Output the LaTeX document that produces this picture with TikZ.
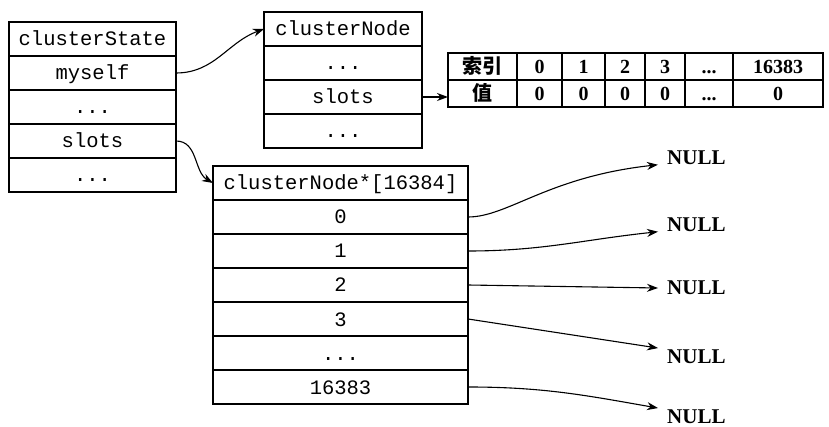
\documentclass[tikz,border=0pt]{standalone}
\usepackage{fontspec}
\setmainfont{Liberation Serif}
\setmonofont{Liberation Mono}
\newfontfamily\cjk{Noto Sans CJK SC}
\usetikzlibrary{arrows.meta, positioning}

\begin{document}
\begin{tikzpicture}[
  x=1pt, y=-1pt,
  cell/.style={draw, line width=1.4pt, outer sep=0pt, inner sep=0pt, minimum height=34pt,
    text height=16pt, text depth=2pt, font=\fontsize{20.5}{24}\selectfont\ttfamily},
  tab/.style={draw, line width=1.4pt, outer sep=0pt, inner sep=0pt, minimum height=27pt,
    text height=14pt, text depth=0pt, font=\fontsize{20}{24}\selectfont\bfseries},
  null/.style={anchor=west, inner xsep=9pt, inner ysep=2pt, text height=13.5pt, text depth=0pt,
    font=\fontsize{21}{24}\selectfont\bfseries},
  ptr/.style={-{Stealth[length=11pt, width=8pt]}, line width=1.1pt}
]
  \useasboundingbox (0,0) rectangle (829,427);

  % clusterState
  \node[cell, minimum width=167pt, anchor=north] (st0) at (92.5,22) {clusterState};
  \node[cell, minimum width=167pt, below=0pt of st0] (st1) {myself};
  \node[cell, minimum width=167pt, below=0pt of st1] (st2) {...};
  \node[cell, minimum width=167pt, below=0pt of st2] (st3) {slots};
  \node[cell, minimum width=167pt, below=0pt of st3] (st4) {...};

  % clusterNode
  \node[cell, minimum width=158pt, anchor=north] (nd0) at (343,12) {clusterNode};
  \node[cell, minimum width=158pt, below=0pt of nd0] (nd1) {...};
  \node[cell, minimum width=158pt, below=0pt of nd1] (nd2) {slots};
  \node[cell, minimum width=158pt, below=0pt of nd2] (nd3) {...};

  % slots bitmap
  \node[tab, minimum width=69pt, anchor=north west] (k0) at (448,53) {\cjk 索引};
  \node[tab, minimum width=45pt, right=0pt of k0] (k1) {0};
  \node[tab, minimum width=43pt, right=0pt of k1] (k2) {1};
  \node[tab, minimum width=40pt, right=0pt of k2] (k3) {2};
  \node[tab, minimum width=40pt, right=0pt of k3] (k4) {3};
  \node[tab, minimum width=48pt, right=0pt of k4] (k5) {...};
  \node[tab, minimum width=90pt, right=0pt of k5] (k6) {16383};
  \node[tab, minimum width=69pt, below=0pt of k0] (v0) {\cjk 值};
  \node[tab, minimum width=45pt, below=0pt of k1] (v1) {0};
  \node[tab, minimum width=43pt, below=0pt of k2] (v2) {0};
  \node[tab, minimum width=40pt, below=0pt of k3] (v3) {0};
  \node[tab, minimum width=40pt, below=0pt of k4] (v4) {0};
  \node[tab, minimum width=48pt, below=0pt of k5] (v5) {...};
  \node[tab, minimum width=90pt, below=0pt of k6] (v6) {0};

  % clusterNode*[16384]
  \node[cell, minimum width=255pt, anchor=north] (sl0) at (340.5,166) {clusterNode*[16384]};
  \node[cell, minimum width=255pt, below=0pt of sl0] (sl1) {0};
  \node[cell, minimum width=255pt, below=0pt of sl1] (sl2) {1};
  \node[cell, minimum width=255pt, below=0pt of sl2] (sl3) {2};
  \node[cell, minimum width=255pt, below=0pt of sl3] (sl4) {3};
  \node[cell, minimum width=255pt, below=0pt of sl4] (sl5) {...};
  \node[cell, minimum width=255pt, below=0pt of sl5] (sl6) {16383};

  % NULL
  \node[null] (n0) at (658,158) {NULL};
  \node[null] (n1) at (658,225) {NULL};
  \node[null] (n2) at (658,288) {NULL};
  \node[null] (n3) at (658,357) {NULL};
  \node[null] (n4) at (658,417) {NULL};

  \draw[ptr] (st1.east) to[out=0, in=200] (nd0.west);
  \draw[ptr] (st3.east) to[out=0, in=150] (sl0.west);
  \draw[ptr] (nd2.east) -- (nd2.east -| v0.west);

  \draw[ptr] (sl1.east) .. controls +(40,0) and +(-110,12) .. (n0.base west);
  \draw[ptr] (sl2.east) to[out=0, in=186] (n1.base west);
  \draw[ptr] (sl3.east) -- (n2.west);
  \draw[ptr] (sl4.east) -- (n3.north west);
  \draw[ptr] (sl6.east) to[out=0, in=170] (n4.north west);
\end{tikzpicture}
\end{document}
